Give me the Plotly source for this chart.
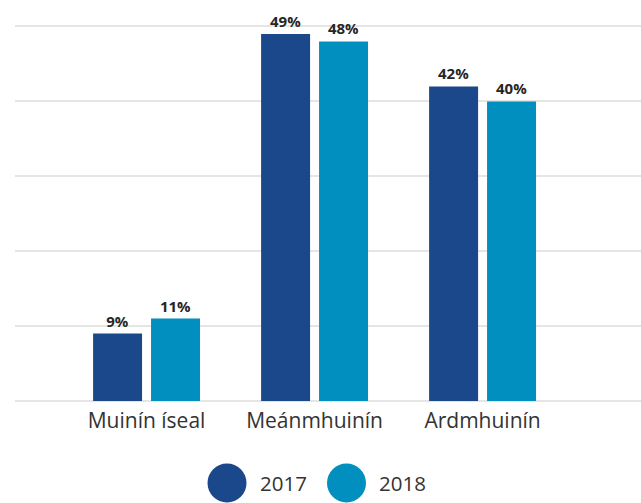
import plotly.graph_objects as go

# Confidence levels and share of respondents per year
categories = ["Muinín íseal", "Meánmhuinín", "Ardmhuinín"]
years = ["2017", "2018"]
values_2017 = [9, 49, 42]
values_2018 = [11, 48, 40]
colors = ["#1b488b", "#008fbf"]

W, H = 641, 503
M_L, M_R, M_T, M_B = 15, 0, 19, 102
FONT = "Open Sans"

fig = go.Figure()
for name, vals, col in zip(years, [values_2017, values_2018], colors):
    fig.add_trace(go.Bar(
        x=categories, y=vals, name=name,
        marker=dict(color=col, line=dict(width=0)),
        text=[f"{v}%" for v in vals],
        textposition="outside",
        textfont=dict(family=FONT, size=15, color="#262626", weight="bold"),
        cliponaxis=False,
        showlegend=False,
    ))

# Custom legend: large round swatches with labels underneath the plot
def to_px_x(px):
    return (px - M_L) / (W - M_L - M_R)

def to_px_y(py):
    return (H - M_B - py) / (H - M_T - M_B)

legend_items = [(227, 258), (346.5, 377)]
shapes = []
annotations = []
for (cx, tx), name, col in zip(legend_items, years, colors):
    shapes.append(dict(
        type="circle", xref="paper", yref="paper",
        xsizemode="pixel", ysizemode="pixel",
        xanchor=to_px_x(cx), yanchor=to_px_y(483),
        x0=-19.5, x1=19.5, y0=-19.5, y1=19.5,
        fillcolor=col, line=dict(width=0),
    ))
    annotations.append(dict(
        text=name, xref="paper", yref="paper",
        x=to_px_x(tx), y=to_px_y(483), xanchor="left", yanchor="middle",
        showarrow=False, font=dict(family=FONT, size=20.5, color="#333333"),
    ))

fig.update_layout(
    width=W, height=H,
    margin=dict(l=M_L, r=M_R, t=M_T, b=M_B),
    paper_bgcolor="white", plot_bgcolor="white",
    barmode="group", bargap=0.31, bargroupgap=0.155,
    xaxis=dict(
        range=[-0.783, 2.943],
        showgrid=False, showline=False, zeroline=False,
        ticks="", ticklabelstandoff=5,
        tickfont=dict(family=FONT, size=21, color="#333333"),
    ),
    yaxis=dict(
        range=[0, 51], dtick=10, showticklabels=False,
        showgrid=True, gridcolor="#e5e5e5", gridwidth=2,
        zeroline=True, zerolinecolor="#e5e5e5", zerolinewidth=2,
        showline=False,
    ),
    shapes=shapes,
    annotations=annotations,
    showlegend=False,
)

fig.write_html("out.html")
